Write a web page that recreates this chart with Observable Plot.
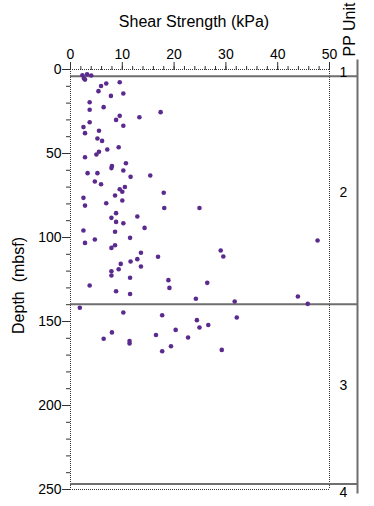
<!DOCTYPE html>
<html>
<head>
<meta charset="utf-8">
<script src="https://cdn.jsdelivr.net/npm/d3@7"></script>
<script src="https://cdn.jsdelivr.net/npm/@observablehq/plot@0.6"></script>
<style>
  html, body { margin: 0; padding: 0; background: #fff; }
  #chart { width: 374px; height: 506px; }
</style>
</head>
<body>
<div id="chart"></div>
<script>
// Shear strength (kPa) and depth (mbsf) of each measurement
const shearStrength = [2.3,3.2,4.0,2.6,2.8,9.5,6.9,5.9,5.4,10.2,7.8,3.7,6.4,3.7,17.4,9.5,13.3,8.8,3.7,10.2,2.5,5.5,2.8,5.2,6.1,9.3,7.1,5.5,5.0,2.8,10.7,8.0,7.9,10.2,3.3,5.2,15.4,11.6,4.7,5.9,10.5,9.5,10.0,18.0,8.6,2.5,10.0,6.9,2.8,18.1,24.9,8.8,12.9,7.9,8.8,10.2,14.3,2.5,8.6,11.5,4.7,47.7,2.8,8.6,7.9,29.0,13.6,16.9,29.5,12.9,11.6,9.7,13.6,9.3,7.9,7.9,11.5,18.9,26.4,3.7,19.1,8.8,11.5,43.9,24.2,31.7,45.8,1.8,10.2,17.7,32.1,24.4,26.6,24.9,20.3,8.0,16.5,22.7,6.4,11.4,11.4,19.4,29.2,17.7];
const depth = [3.4,2.8,3.6,5.4,6.0,7.6,8.3,9.8,12.9,14.3,15.7,19.5,22.4,24.0,25.4,27.6,28.4,30.0,31.4,33.5,34.3,36.5,37.9,41.1,42.5,46.3,47.6,49.0,50.6,52.2,55.8,57.4,58.7,60.1,61.7,61.7,63.1,63.9,66.7,68.3,69.9,71.3,72.8,73.4,75.0,76.4,78.0,79.6,81.0,82.4,82.4,85.5,87.5,88.3,90.7,91.5,94.3,95.8,96.6,100.2,101.2,101.8,103.2,104.6,106.2,107.7,109.1,111.5,111.3,112.9,114.3,115.7,117.3,118.9,120.1,122.6,124.0,125.4,127.0,128.6,130.0,132.0,133.6,135.1,136.5,138.1,139.5,141.8,144.6,146.3,147.6,149.2,152.1,153.6,155.0,156.5,158.0,159.5,160.3,161.6,163.1,164.7,166.9,167.7];

// PP unit boundaries (mbsf), unit names and label depths
const unitBoundaries = [4.0, 139.7, 246.7];
const unitNames = ["1", "2", "3", "4"];
const unitLabelDepths = [2, 73, 188, 251.5];

// Axis ticks
const xMajorTicks = [0, 10, 20, 30, 40, 50];
const xMinorTicks = d3.range(0, 51, 2);
const yMajorTicks = [0, 50, 100, 150, 200, 250];
const yMinorTicks = d3.range(0, 251, 10);
const xDomain = [0, 50];
const yDomain = [0, 250];

const points = shearStrength.map((s, i) => ({s, d: depth[i]}));
const units = unitNames.map((u, i) => ({u, d: unitLabelDepths[i]}));

const axisColor = "#333";
const lineColor = "#6e6e6e";
const centered = {textAnchor: "middle", lineAnchor: "middle", fill: "#000"};

const chart = Plot.plot({
  width: 374,
  height: 506,
  marginLeft: 70,
  marginRight: 17,
  marginTop: 69,
  marginBottom: 17,
  style: {fontFamily: "'Liberation Sans', Arial, Helvetica, sans-serif", fontSize: "14px", color: "#000", background: "#fff"},
  x: {domain: xDomain, range: [70, 329]},
  y: {domain: yDomain, reverse: true},
  marks: [
    // dotted plot border
    Plot.ruleX([xDomain[0], xDomain[1]], {stroke: axisColor, strokeDasharray: "1,1"}),
    Plot.ruleY([yDomain[0], yDomain[1]], {x1: xDomain[0], x2: xDomain[1], stroke: axisColor, strokeDasharray: "1,1"}),
    // PP unit boundaries
    Plot.ruleY(unitBoundaries, {stroke: lineColor, strokeWidth: 2}),
    Plot.frame({anchor: "right", stroke: lineColor, strokeWidth: 2, insetTop: -9, insetBottom: -3}),
    // axes
    Plot.axisX({anchor: "top", ticks: xMajorTicks, tickSize: 8, tickPadding: 3, label: null, stroke: axisColor, fontSize: 14}),
    Plot.axisX({anchor: "top", ticks: xMinorTicks, tickSize: 4, text: null, label: null, stroke: axisColor}),
    Plot.axisY({anchor: "left", ticks: yMajorTicks, tickSize: 8, tickPadding: 1, label: null, stroke: axisColor, fontSize: 14}),
    Plot.axisY({anchor: "left", ticks: yMinorTicks, tickSize: 4, text: null, label: null, stroke: axisColor}),
    // data
    Plot.dot(points, {x: "s", y: "d", r: 2.3, fill: "#5b2a8e", stroke: "none"}),
    // unit labels
    Plot.text(units, {y: "d", text: "u", frameAnchor: "right", dx: -14, fontSize: 14, ...centered}),
    // titles
    Plot.text(["Shear Strength (kPa)"], {frameAnchor: "top", dx: -20, dy: -48, fontSize: 16, ...centered}),
    Plot.text(["Depth  (mbsf)"], {frameAnchor: "left", dx: -52, dy: 6, rotate: -90, fontSize: 16, ...centered}),
    Plot.text(["PP Unit"], {frameAnchor: "top-right", dx: -8, dy: -40, rotate: -90, fontSize: 16, ...centered})
  ]
});
document.getElementById("chart").appendChild(chart);
</script>
</body>
</html>
